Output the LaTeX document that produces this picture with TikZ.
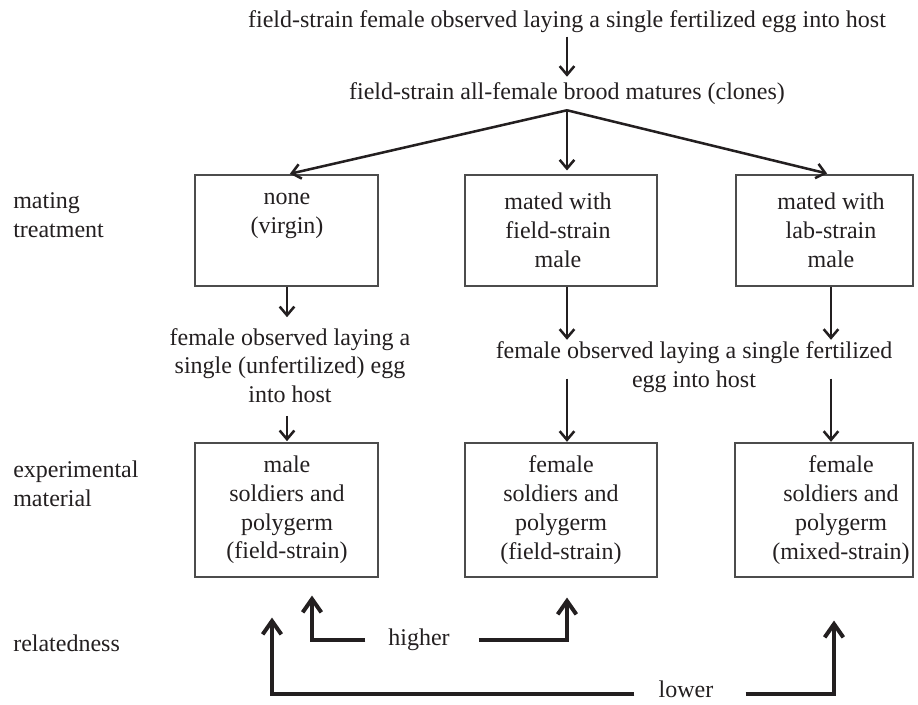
\documentclass[tikz,border=0pt]{standalone}
\usepackage{fontspec}
\setmainfont{Liberation Serif}
\usetikzlibrary{arrows.meta,calc}
\definecolor{ink}{RGB}{35,31,32}
\begin{document}
\begin{tikzpicture}[x=0.75pt,y=-0.75pt,
  font=\fontsize{18pt}{21.6pt}\selectfont, text=ink,
  txt/.style={inner sep=0pt, align=center},
  lab/.style={inner sep=0pt, align=left, anchor=west},
  box/.style={draw=black!70, line width=0.8pt, inner sep=0pt},
  arr/.style={draw=ink, line width=1.9pt, -{Straight Barb[length=6.5pt,width=11pt]}},
  rel/.style={draw=ink, line width=3pt, -{Straight Barb[length=10pt,width=14pt]}}]
\useasboundingbox (0,0) rectangle (918,704);
% boxes
\node[box, minimum width=137.25pt, minimum height=83.25pt] (b1) at (286.5,230.5) {};
\node[box, minimum width=144pt, minimum height=83.25pt] (b2) at (561,230.5) {};
\node[box, minimum width=132.75pt, minimum height=83.25pt] (b3) at (824.5,230.5) {};
\node[box, minimum width=137.25pt, minimum height=100.5pt] (b4) at (286.5,510) {};
\node[box, minimum width=144pt, minimum height=100.5pt] (b5) at (561,510) {};
\node[box, minimum width=133.5pt, minimum height=100.5pt] (b6) at (824,510) {};
% texts
\node[txt] (T1) at (567,22) {field-strain female observed laying a single fertilized egg into host};
\node[txt] (T2) at (567,94) {field-strain all-female brood matures (clones)};
\node[txt] (t1) at (287,216) {none\\(virgin)};
\node[txt] (t2) at (558,230.5) {mated with\\field-strain\\male};
\node[txt] (t3) at (831,230.5) {mated with\\lab-strain\\male};
\node[txt] (L) at (290,365.5) {female observed laying a\\single (unfertilized) egg\\into host};
\node[txt] (M) at (694,367.5) {female observed laying a single fertilized\\egg into host};
\node[txt] (t4) at (287,510) {male\\soldiers and\\polygerm\\(field-strain)};
\node[txt] (t5) at (561,510) {female\\soldiers and\\polygerm\\(field-strain)};
\node[txt] (t6) at (841,510) {female\\soldiers and\\polygerm\\(mixed-strain)};
\node[lab] (l1) at (13,215) {mating\\treatment};
\node[lab] (l2) at (13,484) {experimental\\material};
\node[lab] (l3) at (13,643) {relatedness};
\node[txt] (H) at (419,640) {higher};
\node[txt] (Lw) at (686,689) {lower};
% arrows
\draw[arr, shorten <=2.5pt, shorten >=4.5pt] (T1.south) -- (T2.north);
\coordinate (br) at ($(T2.south)+(0,5)$);
\draw[arr, shorten >=2.2pt] (br) -- (b1.north -| t1);
\draw[arr, shorten >=3pt] (br) -- (b2.north -| br);
\draw[arr, shorten >=3pt] (br) -- (b3.north -| t3);
\draw[arr, shorten >=8pt] (b1.south -| t1) -- (L.north -| t1);
\draw[arr, shorten <=9.5pt, shorten >=1pt] (L.south -| t4) -- (b4.north -| t4);
\draw[arr, shorten >=1.5pt] (b2.south -| br) -- (M.north -| br);
\draw[arr, shorten <=-11pt, shorten >=0.5pt] (M.south -| br) -- (b5.north -| br);
\draw[arr, shorten >=1.5pt] (b3.south -| t3) -- (M.north -| t3);
\draw[arr, shorten <=-11pt, shorten >=0.5pt] (M.south -| t3) -- (b6.north -| t3);
% relatedness
\draw[rel, shorten <=17pt, shorten >=13.5pt] (H.west) -| ($(b4.south)+(25.5,0)$);
\draw[rel, shorten <=21.75pt, shorten >=15pt] (H.east) -| ($(b5.south)+(6,0)$);
\draw[rel, shorten <=18pt, shorten >=30pt] ($(Lw.west)+(0,5)$) -| ($(b4.south)+(-14.5,0)$);
\draw[rel, shorten <=24pt, shorten >=32.25pt] ($(Lw.east)+(0,5)$) -| ($(b6.south)+(10,0)$);
\end{tikzpicture}
\end{document}
